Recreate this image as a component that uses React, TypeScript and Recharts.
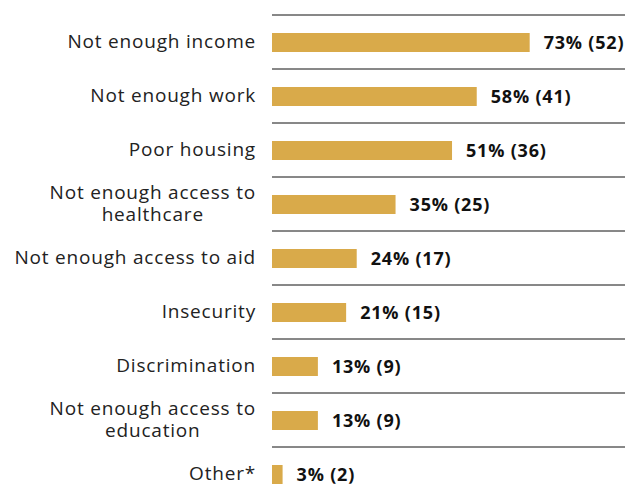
import React from "react";
import {
  BarChart,
  Bar,
  XAxis,
  YAxis,
  CartesianGrid,
  LabelList,
} from "recharts";

const categories = [
  "Not enough income",
  "Not enough work",
  "Poor housing",
  "Not enough access to\nhealthcare",
  "Not enough access to aid",
  "Insecurity",
  "Discrimination",
  "Not enough access to\neducation",
  "Other*",
];
const percents = [73, 58, 51, 35, 24, 21, 13, 13, 3];
const counts = [52, 41, 36, 25, 17, 15, 9, 9, 2];

const data = categories.map((name, i) => ({
  name,
  pct: percents[i],
  count: counts[i],
}));

const FONT = "'Open Sans', sans-serif";
const TICK_SIZE = 19;
const TICK_SPACING = 0.8;

let ctx: CanvasRenderingContext2D | null = null;
const measure = (s: string) => {
  if (!ctx) ctx = document.createElement("canvas").getContext("2d");
  if (!ctx) return s.length * 10;
  ctx.font = `${TICK_SIZE}px ${FONT}`;
  (ctx as any).letterSpacing = `${TICK_SPACING}px`;
  return ctx.measureText(s).width;
};

const CategoryTick = (props: any) => {
  const { x, y, payload } = props;
  const lines = String(payload.value).split("\n");
  const right = x - 8;
  const style = { letterSpacing: TICK_SPACING };
  if (lines.length === 1) {
    return (
      <text x={right} y={y} dy={6} textAnchor="end" fontSize={TICK_SIZE} fill="#222" style={style}>
        {lines[0]}
      </text>
    );
  }
  const w = Math.max(...lines.map(measure));
  const cx = right - w / 2;
  return (
    <text x={cx} y={y} textAnchor="middle" fontSize={TICK_SIZE} fill="#222" style={style}>
      {lines.map((l, i) => (
        <tspan key={i} x={cx} y={y - 11 + i * 22 + 6}>
          {l}
        </tspan>
      ))}
    </text>
  );
};

export default function App() {
  return (
    <div
      style={{
        position: "absolute",
        left: 0,
        top: 0,
        width: 625,
        height: 487,
        overflow: "hidden",
        background: "#fff",
        fontFamily: FONT,
      }}
    >
      <BarChart
        width={625}
        height={510}
        data={data}
        layout="vertical"
        margin={{ top: 15, right: 0, bottom: 9, left: 0 }}
      >
        <CartesianGrid
          vertical={false}
          stroke="#111"
          horizontalCoordinatesGenerator={({ offset }: any) =>
            categories.map(
              (_, i) => offset.top + (i * offset.height) / categories.length
            )
          }
        />
        <XAxis type="number" domain={[0, 100]} hide />
        <YAxis
          type="category"
          dataKey="name"
          width={272}
          axisLine={false}
          tickLine={false}
          tick={<CategoryTick />}
          interval={0}
        />
        <Bar dataKey="pct" fill="#D9AA4A" barSize={19} isAnimationActive={false}>
          <LabelList
            dataKey="pct"
            position="right"
            offset={14}
            content={(p: any) => {
              const { x, y, width, height, index } = p;
              return (
                <text
                  x={x + width + 14}
                  y={y + height / 2}
                  dy={6}
                  fontSize={18}
                  fontWeight={700}
                  fill="#111"
                  style={{ letterSpacing: 0.8 }}
                >
                  {`${percents[index]}% (${counts[index]})`}
                </text>
              );
            }}
          />
        </Bar>
      </BarChart>
    </div>
  );
}
